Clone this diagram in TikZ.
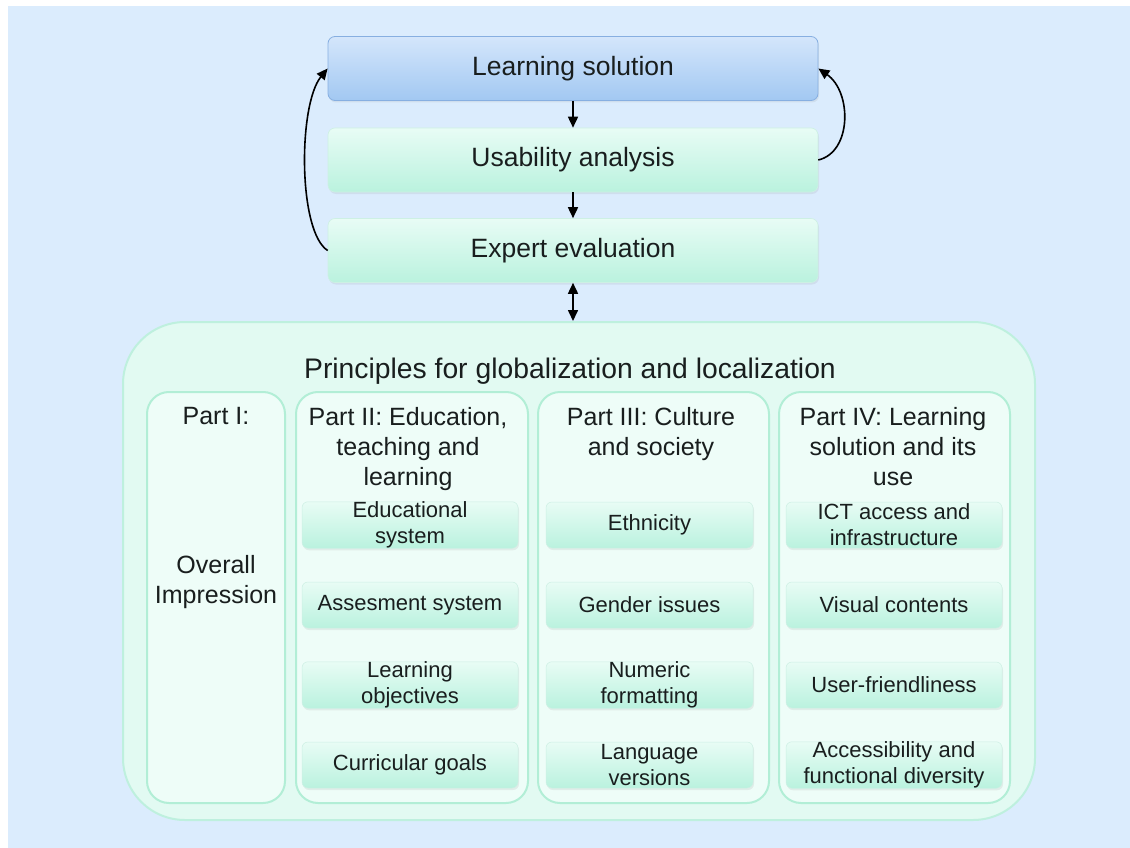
\documentclass[tikz,border=0pt]{standalone}
\usepackage{fontspec}
\setmainfont{Liberation Sans}
\usetikzlibrary{arrows.meta,shadows}
\definecolor{bgblue}{RGB}{219,236,253}
\definecolor{txt}{RGB}{25,30,30}
\definecolor{contfill}{RGB}{226,250,242}
\definecolor{contdraw}{RGB}{190,240,222}
\definecolor{colfill}{RGB}{238,253,248}
\definecolor{coldraw}{RGB}{178,238,214}
\definecolor{mtop}{RGB}{232,252,245}
\definecolor{mbot}{RGB}{186,242,222}
\definecolor{mdraw}{RGB}{205,240,228}
\definecolor{btop}{RGB}{212,230,251}
\definecolor{bbot}{RGB}{162,200,242}
\definecolor{bdraw}{RGB}{135,175,225}
\tikzset{
  topbox/.style={rounded corners=7pt, minimum width=490pt, minimum height=64pt,
    inner sep=0pt, text=txt, font=\fontsize{26.5}{30}\selectfont,
    drop shadow={opacity=0.12, shadow xshift=1pt, shadow yshift=-2pt}},
  bluebox/.style={topbox, top color=btop, bottom color=bbot, draw=bdraw, line width=0.8pt},
  mintbox/.style={topbox, top color=mtop, bottom color=mbot, draw=mdraw, line width=0.6pt},
  colbox/.style={rounded corners=22pt, fill=colfill, draw=coldraw, line width=2pt,
    minimum height=411pt, inner sep=0pt},
  hdr/.style={text=txt, align=center, font=\fontsize{25}{30}\selectfont, inner sep=0pt},
  itembox/.style={rounded corners=6pt, top color=mtop, bottom color=mbot, draw=mdraw,
    line width=0.5pt, minimum height=46pt, inner sep=0pt, align=center, text=txt,
    font=\fontsize{22}{26}\selectfont,
    drop shadow={opacity=0.12, shadow xshift=1pt, shadow yshift=-2pt}},
  arr/.style={-{Triangle[length=11pt,width=10pt]}, line width=1.6pt, black},
  darr/.style={{Triangle[length=11pt,width=10pt]}-{Triangle[length=11pt,width=10pt]}, line width=1.6pt, black}
}
\begin{document}
\begin{tikzpicture}[x=1pt,y=-1pt]
\useasboundingbox (0,0) rectangle (1130,848);
\fill[bgblue] (8,6) rectangle (1130,848);

% top flow
\node[bluebox] (ls) at (573,68.5) {Learning solution};
\node[mintbox] (ua) at (573,160) {Usability analysis};
\node[mintbox] (ee) at (573,250.5) {Expert evaluation};

% container
\node[rounded corners=62pt, fill=contfill, draw=contdraw, line width=2pt,
  minimum width=912pt, minimum height=498pt, inner sep=0pt] (pr) at (579,571) {};
\node[text=txt, font=\fontsize{28.3}{32}\selectfont, inner sep=0pt] (prt) at (570,371)
  {Principles for globalization and localization};

\draw[arr] (ls.south) -- (ua.north);
\draw[arr] (ua.south) -- (ee.north);
\draw[darr] (ee.south) -- (ee.south |- pr.north);
\draw[arr] (ee.west) .. controls (298,232) and (298,105) .. (ls.west);
\draw[arr] (ua.east) .. controls (852,152) and (852,92) .. (ls.east);

% columns
\node[colbox, minimum width=138pt] (c1) at (216,597.5) {};
\node[colbox, minimum width=232pt] (c2) at (412,597.5) {};
\node[colbox, minimum width=231pt] (c3) at (653.5,597.5) {};
\node[colbox, minimum width=231pt] (c4) at (894.5,597.5) {};

\node[hdr, anchor=north] (h1) at (216,407) {Part I:};
\node[hdr] (oi) at (216,582) {Overall\\Impression};
\node[hdr, anchor=north] (h2) at (408,407) {Part II: Education,\\teaching and\\learning};
\node[hdr, anchor=north] (h3) at (651,407) {Part III: Culture\\and society};
\node[hdr, anchor=north] (h4) at (893,407) {Part IV: Learning\\solution and its\\use};

% part II items
\node[itembox, minimum width=216pt] (e1) at (410,525) {Educational\\system};
\node[itembox, minimum width=216pt] (e2) at (410,605) {Assesment system};
\node[itembox, minimum width=216pt] (e3) at (410,685) {Learning\\objectives};
\node[itembox, minimum width=216pt] (e4) at (410,765) {Curricular goals};
% part III items
\node[itembox, minimum width=207pt] (s1) at (649.5,525) {Ethnicity};
\node[itembox, minimum width=207pt] (s2) at (649.5,605) {Gender issues};
\node[itembox, minimum width=207pt] (s3) at (649.5,685) {Numeric\\formatting};
\node[itembox, minimum width=207pt] (s4) at (649.5,765) {Language\\versions};
% part IV items
\node[itembox, minimum width=216pt] (u1) at (894,525) {ICT access and\\infrastructure};
\node[itembox, minimum width=216pt] (u2) at (894,605) {Visual contents};
\node[itembox, minimum width=216pt] (u3) at (894,685) {User-friendliness};
\node[itembox, minimum width=216pt] (u4) at (894,765) {Accessibility and\\functional diversity};
\end{tikzpicture}
\end{document}
